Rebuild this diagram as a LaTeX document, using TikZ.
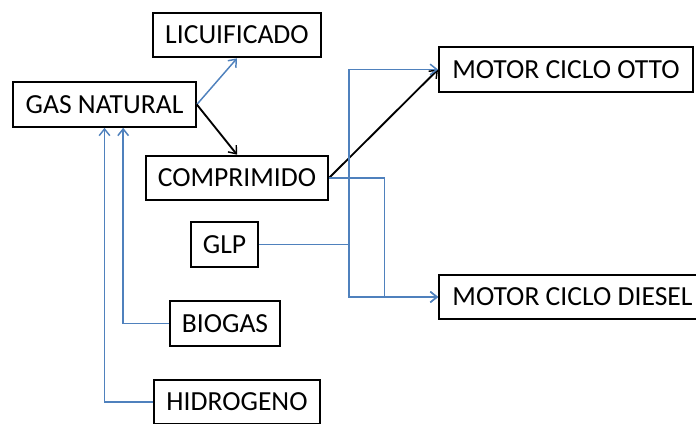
\documentclass[tikz,border=0pt]{standalone}
\usepackage{fontspec}
\setmainfont{Carlito}
\usetikzlibrary{arrows.meta}

\tikzset{every picture/.style={line width=0.75pt}}

\begin{document}
\begin{tikzpicture}[x=0.75pt,y=0.75pt,yscale=-1,xscale=1,
  fuelbox/.style={draw=black,line width=1.5pt,inner sep=0pt,minimum height=33.5pt,font=\fontsize{20.7}{24}\selectfont},
  blueline/.style={draw={rgb, 255:red, 79; green, 129; blue, 189 },line width=1.1pt},
  blackline/.style={draw=black,line width=1.4pt},
  >={Straight Barb[length=5pt,width=8pt,line width=1.1pt]}]
\useasboundingbox (0,0) rectangle (696,424);

% Text Node
\node [fuelbox,minimum width=126pt] (licuado) at (237,35) {LICUIFICADO};
% Text Node
\node [fuelbox,minimum width=137pt] (gasnat) at (104.5,104.5) {GAS NATURAL};
% Text Node
\node [fuelbox,minimum width=136.5pt] (compr) at (237,178) {COMPRIMIDO};
% Text Node
\node [fuelbox,minimum width=50pt] (glp) at (224.5,244.5) {GLP};
% Text Node
\node [fuelbox,minimum width=82.5pt] (biogas) at (225,323.5) {BIOGAS};
% Text Node
\node [fuelbox,minimum width=124.5pt] (hidro) at (237,402) {HIDROGENO};
% Text Node
\node [fuelbox,minimum width=190.5pt] (otto) at (566,69.5) {MOTOR CICLO OTTO};
% Text Node
\node [fuelbox,minimum width=200pt] (diesel) at (572.5,297) {MOTOR CICLO DIESEL};

%Straight Lines
\draw [blueline,->] (gasnat.east) -- (licuado.south);
%Straight Lines
\draw [blackline,->] (gasnat.east) -- (compr.north);
%Straight Lines
\draw [blackline,->] (compr.east) -- (otto.west);
%Straight Lines
\draw [blueline,->] (compr.east) -- ++(55.5,0) |- (diesel.west);
%Straight Lines
\coordinate (glpsplit) at (349,244.5);
\draw [blueline] (glp.east) -- (glpsplit);
\draw [blueline,->] (glpsplit) |- (otto.west);
\draw [blueline,->] (glpsplit) |- (diesel.west);
%Straight Lines
\draw [blueline,->] (biogas.west) -| ([xshift=14pt]gasnat.south);
%Straight Lines
\draw [blueline,->] (hidro.west) -| (gasnat.south);
\end{tikzpicture}
\end{document}
